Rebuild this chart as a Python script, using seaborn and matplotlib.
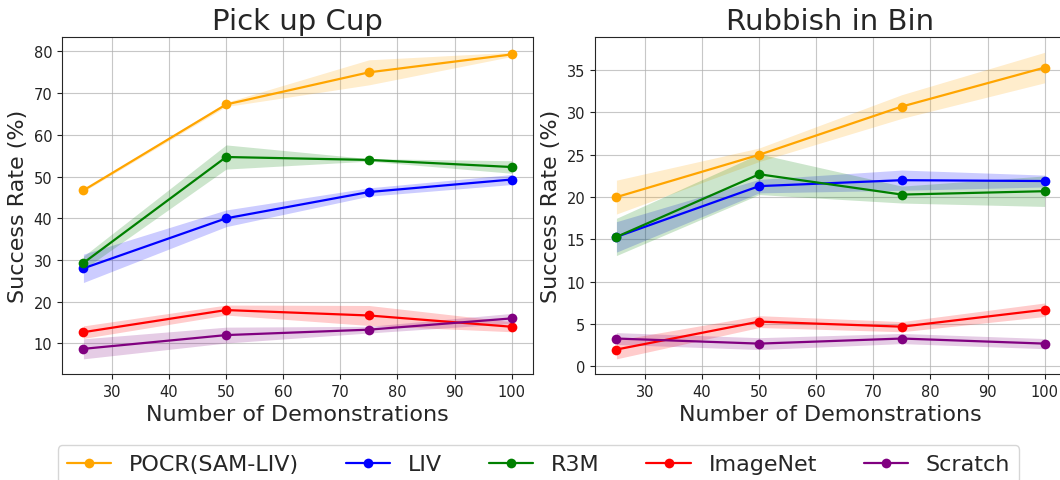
import numpy as np
import matplotlib
matplotlib.use("Agg")
import matplotlib.pyplot as plt
import seaborn as sns

sns.set_style("ticks")
plt.rcParams['font.family'] = ['DejaVu Sans']

# Data (mean success rate and half-width of shaded band)
demos = [25, 50, 75, 100]
methods = ["POCR(SAM-LIV)", "LIV", "R3M", "ImageNet", "Scratch"]
colors = ["orange", "blue", "green", "red", "purple"]

cup_pocr = [46.7, 67.3, 75.0, 79.3]
cup_liv = [28.0, 40.0, 46.3, 49.3]
cup_r3m = [29.3, 54.7, 54.0, 52.3]
cup_imagenet = [12.7, 18.0, 16.7, 14.0]
cup_scratch = [8.7, 12.0, 13.3, 16.0]

cup_pocr_err = [0.3, 0.5, 3.0, 0.5]
cup_liv_err = [3.4, 2.0, 1.0, 1.2]
cup_r3m_err = [1.6, 2.9, 0.3, 1.5]
cup_imagenet_err = [1.5, 1.2, 2.4, 1.2]
cup_scratch_err = [2.4, 1.9, 0.8, 1.2]

bin_pocr = [20.0, 25.0, 30.7, 35.3]
bin_liv = [15.3, 21.3, 22.0, 21.9]
bin_r3m = [15.3, 22.7, 20.3, 20.7]
bin_imagenet = [2.0, 5.3, 4.7, 6.7]
bin_scratch = [3.3, 2.7, 3.3, 2.7]

bin_pocr_err = [2.0, 0.8, 1.4, 1.8]
bin_liv_err = [1.8, 0.8, 1.2, 0.7]
bin_r3m_err = [2.2, 2.4, 1.0, 1.8]
bin_imagenet_err = [1.1, 0.7, 0.6, 0.8]
bin_scratch_err = [0.7, 0.7, 0.6, 0.6]

tasks = {
    "Pick up Cup": (
        [cup_pocr, cup_liv, cup_r3m, cup_imagenet, cup_scratch],
        [cup_pocr_err, cup_liv_err, cup_r3m_err, cup_imagenet_err, cup_scratch_err],
    ),
    "Rubbish in Bin": (
        [bin_pocr, bin_liv, bin_r3m, bin_imagenet, bin_scratch],
        [bin_pocr_err, bin_liv_err, bin_r3m_err, bin_imagenet_err, bin_scratch_err],
    ),
}

fig, axes = plt.subplots(1, 2, figsize=(10.6, 4.81), dpi=100)
# right panel runs slightly past the figure edge, as in the original crop
fig.subplots_adjust(left=0.0585, right=1.0057, top=0.921, bottom=0.22, wspace=0.1316)

for ax, (title, (means, errs)) in zip(axes, tasks.items()):
    for name, color, m, e in zip(methods, colors, means, errs):
        m = np.array(m)
        e = np.array(e)
        sns.lineplot(x=demos, y=m, ax=ax, color=color, marker='o', markersize=7,
                     markeredgewidth=0, linewidth=1.6, label=name, legend=False)
        ax.fill_between(demos, m - e, m + e, color=color, alpha=0.2, linewidth=0)
    ax.set_title(title, fontsize=21)
    ax.set_xlabel("Number of Demonstrations", fontsize=16)
    ax.set_ylabel("Success Rate (%)", fontsize=16)
    ax.tick_params(labelsize=10.5, colors='#222222')
    ax.grid(True, color='#b0b0b0', linewidth=0.8, alpha=0.7)

handles, labels = axes[0].get_legend_handles_labels()
fig.legend(handles, labels, loc='upper center', ncol=5, fontsize=16,
           bbox_to_anchor=(0.508, 0.095), frameon=True, columnspacing=2.1)

fig.savefig("out.png", dpi=100)
